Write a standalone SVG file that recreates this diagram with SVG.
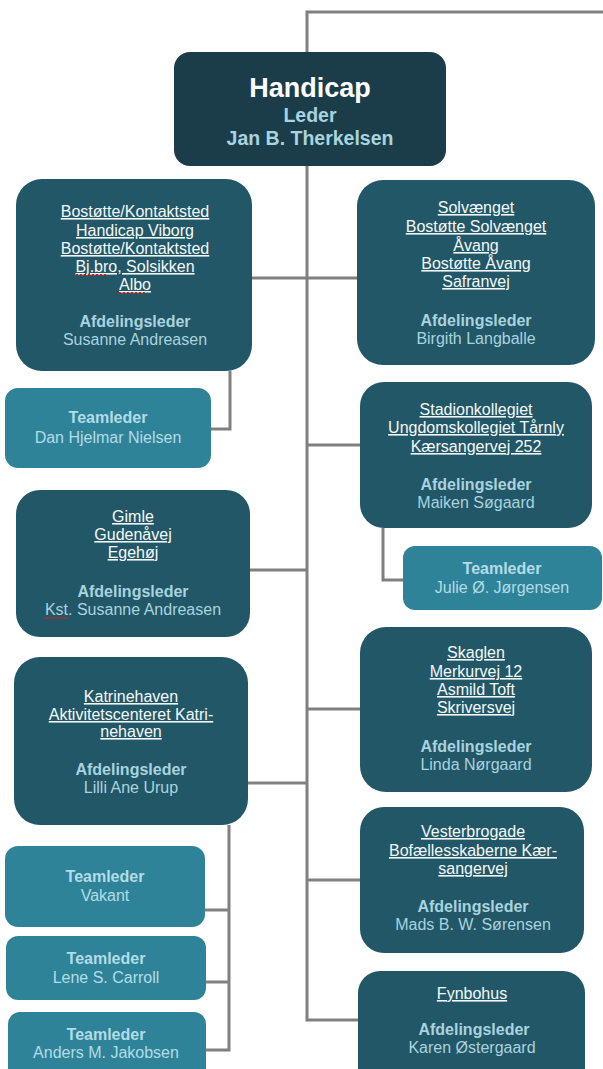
<svg xmlns="http://www.w3.org/2000/svg" width="603" height="1069" viewBox="0 0 603 1069">
<style>
.hdr{fill:#1b3d49}
.dept{fill:#225767}
.team{fill:#2f8399}
.conn{fill:none;stroke:#808080;stroke-width:3}
text{font-family:"Liberation Sans",Arial,sans-serif;text-anchor:middle}
.u{fill:#f4f7f8;font-size:16px;text-decoration:underline}
.lb{fill:#a8d3df;font-size:16px;font-weight:bold}
.lr{fill:#a8d3df;font-size:16px}
.tb{fill:#b3dce6;font-size:16px;font-weight:bold}
.tr{fill:#b3dce6;font-size:16px}
.sq{fill:none;stroke:#d02020;stroke-width:1}
</style>
<g id="connectors">
<path class="conn" d="M307 52 V12 H603"/>
<path class="conn" d="M307 166 V1020 H358"/>
<path class="conn" d="M252 278 H358"/>
<path class="conn" d="M230 371 V429 H211"/>
<path class="conn" d="M307 445 H360"/>
<path class="conn" d="M383 528 V580 H403"/>
<path class="conn" d="M250 570 H307"/>
<path class="conn" d="M307 709 H360"/>
<path class="conn" d="M248 783 H307"/>
<path class="conn" d="M307 880 H360"/>
<path class="conn" d="M229 825 V1050 H206 M229 910 H205 M229 982 H206"/>
</g>
<g id="n-handicap">
<rect class="hdr" x="174" y="52" width="272" height="114" rx="16"/>
<text x="310" y="97" style="fill:#ffffff;font-size:27px;font-weight:bold">Handicap</text>
<text x="310" y="122" style="fill:#a8d3df;font-size:19.5px;font-weight:bold">Leder</text>
<text x="310" y="145" style="fill:#a8d3df;font-size:19.5px;font-weight:bold">Jan B. Therkelsen</text>
</g>
<g id="n-bostotte">
<rect class="dept" x="16" y="179" width="236" height="192" rx="26"/>
<text class="u" x="135" y="217">Bostøtte/Kontaktsted</text>
<text class="u" x="135" y="236">Handicap Viborg</text>
<text class="u" x="135" y="254">Bostøtte/Kontaktsted</text>
<text class="u" x="135" y="272">Bj.bro, Solsikken</text>
<text class="u" x="135" y="290">Albo</text>
<path class="sq" d="M75 276 l2 -2 l2 2 l2 -2 l2 2 l2 -2 l2 2 l2 -2 l2 2 l2 -2 l2 2 l2 -2 l2 2 l2 -2 l2 2 l2 -2 l2 2"/>
<path class="sq" d="M118 294 l2 -2 l2 2 l2 -2 l2 2 l2 -2 l2 2 l2 -2 l2 2 l2 -2 l2 2 l2 -2 l2 2 l2 -2 l2 2"/>
<text class="lb" x="135" y="327">Afdelingsleder</text>
<text class="lr" x="135" y="345">Susanne Andreasen</text>
</g>
<g id="n-dan">
<rect class="team" x="5" y="388" width="206" height="80" rx="13"/>
<text class="tb" x="108" y="423">Teamleder</text>
<text class="tr" x="108" y="443">Dan Hjelmar Nielsen</text>
</g>
<g id="n-solvaenget">
<rect class="dept" x="357" y="180" width="238" height="185" rx="26"/>
<text class="u" x="476" y="213">Solvænget</text>
<text class="u" x="476" y="232">Bostøtte Solvænget</text>
<text class="u" x="476" y="251">Åvang</text>
<text class="u" x="476" y="269">Bostøtte Åvang</text>
<text class="u" x="476" y="287">Safranvej</text>
<text class="lb" x="476" y="326">Afdelingsleder</text>
<text class="lr" x="476" y="344">Birgith Langballe</text>
</g>
<g id="n-stadion">
<rect class="dept" x="360" y="382" width="232" height="146" rx="24"/>
<text class="u" x="476" y="415">Stadionkollegiet</text>
<text class="u" x="476" y="433">Ungdomskollegiet Tårnly</text>
<text class="u" x="476" y="452">Kærsangervej 252</text>
<text class="lb" x="476" y="490">Afdelingsleder</text>
<text class="lr" x="476" y="508">Maiken Søgaard</text>
</g>
<g id="n-julie">
<rect class="team" x="403" y="546" width="199" height="64" rx="12"/>
<text class="tb" x="502" y="574">Teamleder</text>
<text class="tr" x="502" y="593">Julie Ø. Jørgensen</text>
</g>
<g id="n-gimle">
<rect class="dept" x="16" y="490" width="234" height="147" rx="24"/>
<text class="u" x="133" y="522">Gimle</text>
<text class="u" x="133" y="540">Gudenåvej</text>
<text class="u" x="133" y="558">Egehøj</text>
<text class="lb" x="133" y="597">Afdelingsleder</text>
<text class="lr" x="133" y="615">Kst. Susanne Andreasen</text>
<path class="sq" d="M44 619 l2 -2 l2 2 l2 -2 l2 2 l2 -2 l2 2 l2 -2 l2 2 l2 -2 l2 2 l2 -2 l2 2"/>
</g>
<g id="n-katrinehaven">
<rect class="dept" x="14" y="657" width="234" height="168" rx="26"/>
<text class="u" x="131" y="702">Katrinehaven</text>
<text class="u" x="131" y="720">Aktivitetscenteret Katri-</text>
<text class="u" x="131" y="737">nehaven</text>
<text class="lb" x="131" y="775">Afdelingsleder</text>
<text class="lr" x="131" y="793">Lilli Ane Urup</text>
</g>
<g id="n-vakant">
<rect class="team" x="5" y="846" width="200" height="81" rx="13"/>
<text class="tb" x="105" y="882">Teamleder</text>
<text class="tr" x="105" y="901">Vakant</text>
</g>
<g id="n-lene">
<rect class="team" x="6" y="936" width="200" height="64" rx="12"/>
<text class="tb" x="106" y="964">Teamleder</text>
<text class="tr" x="106" y="983">Lene S. Carroll</text>
</g>
<g id="n-anders">
<rect class="team" x="8" y="1012" width="198" height="80" rx="12"/>
<text class="tb" x="106" y="1040">Teamleder</text>
<text class="tr" x="106" y="1058">Anders M. Jakobsen</text>
</g>
<g id="n-skaglen">
<rect class="dept" x="360" y="627" width="232" height="165" rx="26"/>
<text class="u" x="476" y="658">Skaglen</text>
<text class="u" x="476" y="677">Merkurvej 12</text>
<text class="u" x="476" y="695">Asmild Toft</text>
<text class="u" x="476" y="713">Skriversvej</text>
<text class="lb" x="476" y="752">Afdelingsleder</text>
<text class="lr" x="476" y="770">Linda Nørgaard</text>
</g>
<g id="n-vesterbrogade">
<rect class="dept" x="360" y="807" width="224" height="146" rx="24"/>
<text class="u" x="473" y="837">Vesterbrogade</text>
<text class="u" x="473" y="856">Bofællesskaberne Kær-</text>
<text class="u" x="473" y="874">sangervej</text>
<text class="lb" x="473" y="912">Afdelingsleder</text>
<text class="lr" x="473" y="930">Mads B. W. Sørensen</text>
</g>
<g id="n-fynbohus">
<rect class="dept" x="358" y="971" width="227" height="120" rx="22"/>
<text class="u" x="472" y="999">Fynbohus</text>
<text class="lb" x="474" y="1035">Afdelingsleder</text>
<text class="lr" x="472" y="1053">Karen Østergaard</text>
</g>
</svg>
